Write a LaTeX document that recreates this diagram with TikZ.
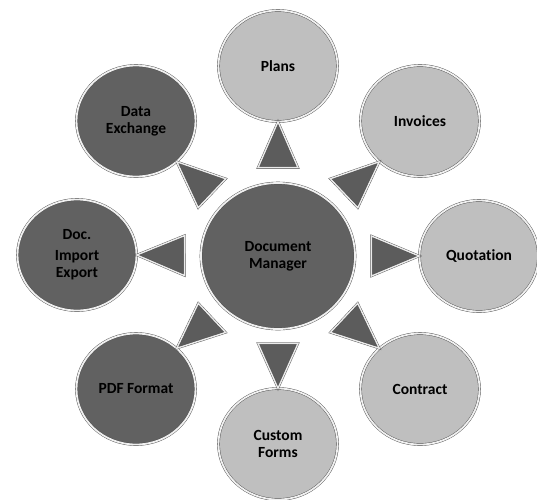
\documentclass[tikz,border=0pt]{standalone}
\usepackage{fontspec}
\setmainfont[Ligatures=NoCommon]{Carlito}
\usetikzlibrary{shapes.geometric,calc}
\begin{document}
\begin{tikzpicture}[x = 1pt, y = -1pt,
    hub/.style = {ellipse, draw = black!70, double = black!6, double distance = 1.8pt, fill = black!62,
                  minimum width = 154pt, minimum height = 146pt, inner sep = 0pt, align = center,
                  font = \fontsize{15.5}{17}\selectfont\bfseries},
    dark/.style = {hub, minimum width = 119pt, minimum height = 111pt},
    light/.style = {dark, fill = black!25},
    pointer/.style = {draw = black!70, double = black!8, double distance = 1.4pt, fill = black!64, line join = miter}]
  \useasboundingbox (0, 0) rectangle (537, 499);
  \node [hub] (dm) at (278, 256){Document\\Manager};
  \node [light] (plans) at (278, 66){Plans};
  \node [light] (inv) at (420, 121){Invoices};
  \node [light] (quot) at (479, 256){Quotation};
  \node [light] (contr) at (420, 389){Contract};
  \node [light] (forms) at (278, 444){Custom\\Forms};
  \node [dark] (pdf) at (136, 389){PDF Format};
  \node [dark] (doc) at (77, 255){Doc.\\[4pt]Import\\Export};
  \node [dark] (data) at (136, 121){Data\\Exchange};
  \foreach \n/\a in {plans/270, inv/225, quot/180, contr/135, forms/90, pdf/45, doc/0, data/315}{
    \coordinate (b) at ($(dm)!0.465!(\n)$);
    \draw [pointer] ($(b)!20pt!90:(\n)$) -- (\n.\a) -- ($(b)!20pt!-90:(\n)$) -- cycle;
  }
\end{tikzpicture}
\end{document}
